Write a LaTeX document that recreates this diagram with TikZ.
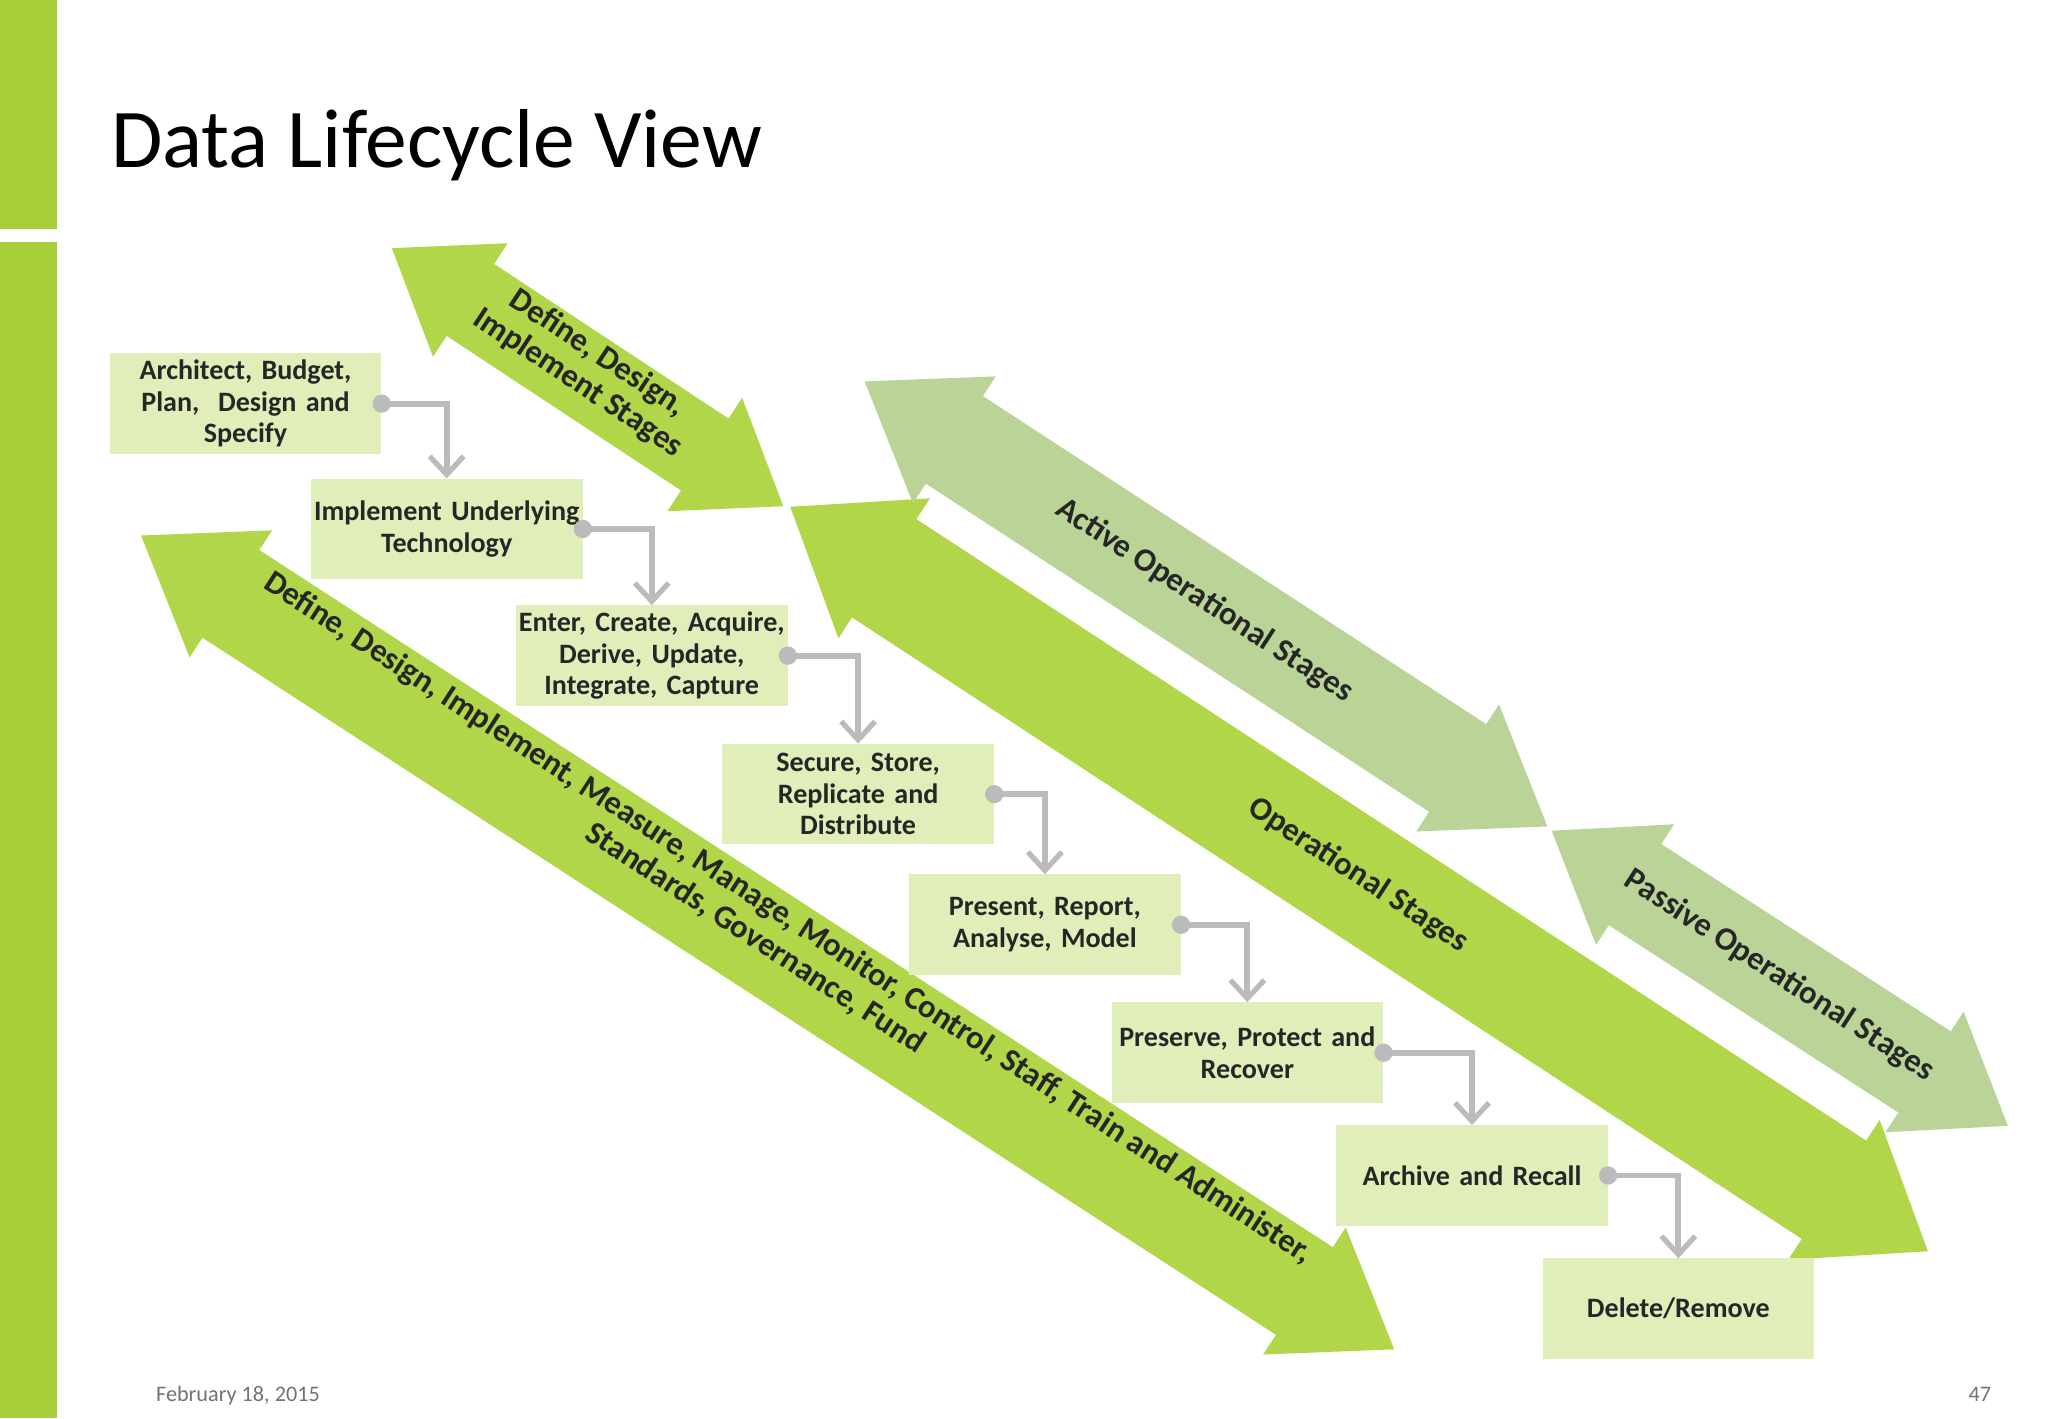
\documentclass[tikz,border=0pt]{standalone}
\usepackage{fontspec}
\setmainfont{Carlito}
\usetikzlibrary{arrows.meta}
\definecolor{bar}{HTML}{A6CE39}
\definecolor{bright}{HTML}{B2D64A}
\definecolor{muted}{HTML}{B9D496}
\definecolor{boxf}{HTML}{E0EEBA}
\definecolor{conn}{HTML}{BBBBBB}
\newcommand\dblarrow[8]{%
\begin{scope}[shift={(#1,#2)},rotate=#3]
\fill[#8] (0,0)--(#7,#6)--(#7,#5)--({#4-#7},#5)--({#4-#7},#6)--(#4,0)--({#4-#7},-#6)--({#4-#7},-#5)--(#7,-#5)--(#7,-#6)--cycle;
\end{scope}}
\begin{document}
\begin{tikzpicture}[x=1pt,y=1pt,
 box/.style={fill=boxf,minimum width=208pt,minimum height=77pt,text width=204pt,align=center,font=\fontsize{21.5}{24}\selectfont\bfseries,text=black!85,inner sep=0pt},
 lab/.style={font=\fontsize{25}{27}\selectfont\bfseries,text=black!85,align=center},
 con/.style={draw=conn,line width=4.5pt,-{Straight Barb[length=14pt,width=26pt,line width=4pt]}}]
\useasboundingbox (0,0) rectangle (1568,-1086);
\fill[white] (0,0) rectangle (1568,-1086);
\fill[bar] (0,0) rectangle (44,-175);
\fill[bar] (0,-185) rectangle (44,-1086);
\node[anchor=base west,font=\fontsize{64}{66}\selectfont,inner sep=0pt] (title) at (85,-128) {Data Lifecycle View};
% arrows
\dblarrow{300}{-190}{-33.4}{359}{33}{52}{72}{bright}
\dblarrow{108}{-410}{-33.0}{1144}{40}{58}{82}{bright}
\dblarrow{605}{-388}{-33.2}{1041}{45}{64}{86}{bright}
\dblarrow{662}{-292}{-33.1}{624}{40}{58}{82}{muted}
\dblarrow{1188}{-636}{-32.9}{416}{37}{55}{76}{muted}
\node[lab,rotate=-33.4] (l1) at (450,-282) {Define, Design,\\Implement Stages};
\node[lab,rotate=-33.0] (l2) at (596,-714) {Define, Design, Implement, Measure, Manage, Monitor, Control, Staff, Train and Administer,\\Standards, Governance, Fund\hspace*{25pt}};
\node[lab,rotate=-33.1] (l3) at (922,-460) {Active Operational Stages};
\node[lab,rotate=-33.2] (l4) at (1040,-670) {Operational Stages};
\node[lab,rotate=-32.9] (l5) at (1362,-747) {Passive Operational Stages};
% boxes
\node[box] (b1) at (188,-309) {Architect, Budget,\\Plan,~ Design and\\Specify};
\node[box] (b2) at (342,-405) {Implement Underlying\\Technology};
\node[box] (b3) at (499,-502) {Enter, Create, Acquire,\\Derive, Update,\\Integrate, Capture};
\node[box] (b4) at (657,-608) {Secure, Store,\\Replicate and\\Distribute};
\node[box] (b5) at (800,-708) {Present, Report,\\Analyse, Model};
\node[box] (b6) at (955,-806) {Preserve, Protect and\\Recover};
\node[box] (b7) at (1127,-900) {Archive and Recall};
\node[box] (b8) at (1285,-1002) {Delete/Remove};
\foreach \a/\b in {b1/b2,b2/b3,b3/b4,b4/b5,b5/b6,b6/b7,b7/b8}{
 \draw[con] (\a.east) -| (\b.north);
 \fill[conn] (\a.east) circle (7pt);}
\node[anchor=base west,font=\fontsize{17}{18}\selectfont,text=black!55] (d) at (116,-1073) {February 18, 2015};
\node[anchor=base east,font=\fontsize{17}{18}\selectfont,text=black!55] (p) at (1528,-1073) {47};
\end{tikzpicture}
\end{document}
